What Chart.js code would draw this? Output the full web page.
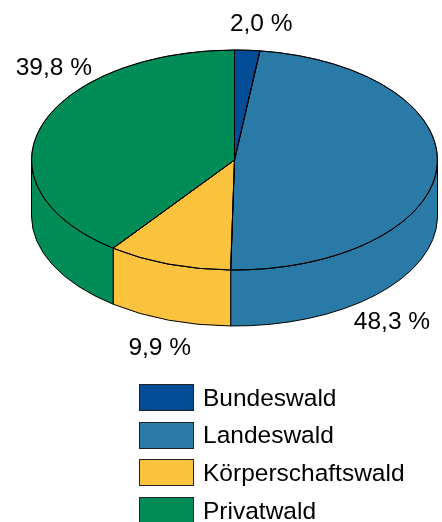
<!DOCTYPE html>
<html>
<head>
<meta charset="utf-8">
<script src="https://cdn.jsdelivr.net/npm/chart.js@4/dist/chart.umd.min.js"></script>
<style>
  html, body { margin: 0; padding: 0; background: #fff; }
  #wrap { position: relative; width: 442px; height: 522px; overflow: hidden; }
  #legend { position: absolute; left: 139px; top: 384px; font-family: "Liberation Sans", Arial, sans-serif; font-size: 24.5px; color: #000; }
  .item { display: flex; align-items: center; height: 27px; margin-bottom: 10.7px; }
  .box { width: 53px; height: 25px; border: 1px solid #222; margin-right: 9px; }
</style>
</head>
<body>
<div id="wrap">
  <canvas id="pie" width="442" height="522"></canvas>
  <div id="legend"></div>
</div>
<script>
const labels = ["Bundeswald", "Landeswald", "Körperschaftswald", "Privatwald"];
const shares = [2.0, 48.3, 9.9, 39.8];
const colors = ["#034c96", "#2a7aa8", "#fbc23e", "#008c57"];

// look of the tilted disc
const tilt = 110 / 203;   // vertical squash
const depth = 56;         // side height in px
const topY = 160;         // screen y of the disc centre
// label offsets from the rim point at each slice's middle angle
const labelShift = [[14, -26], [-45, 154], [-9, 84], [12, -57]];

function fmt(v) {
  return v.toFixed(1).replace(".", ",") + " %";
}

function ellipsePath(ctx, x, y, rx, ry, a, b, ccw) {
  ctx.ellipse(x, y, rx, ry, 0, a, b, ccw);
}

const pie3d = {
  id: "pie3d",
  beforeDatasetsDraw(chart) {
    const ctx = chart.ctx;
    const arcs = chart.getDatasetMeta(0).data;
    // front walls, only the part facing the viewer (0..PI)
    arcs.forEach((arc, i) => {
      const a = Math.max(arc.startAngle, 0);
      const b = Math.min(arc.endAngle, Math.PI);
      if (b <= a) return;
      const rx = arc.outerRadius, ry = arc.outerRadius * tilt;
      ctx.save();
      ctx.beginPath();
      ellipsePath(ctx, arc.x, topY, rx, ry, a, b, false);
      ellipsePath(ctx, arc.x, topY + depth, rx, ry, b, a, true);
      ctx.closePath();
      ctx.fillStyle = colors[i];
      ctx.fill();
      ctx.lineWidth = 1;
      ctx.strokeStyle = "#000";
      ctx.stroke();
      ctx.restore();
    });
    const cy0 = arcs[0].y;
    ctx.save();
    ctx.translate(0, topY);
    ctx.scale(1, tilt);
    ctx.translate(0, -cy0);
  },
  afterDatasetsDraw(chart) {
    const ctx = chart.ctx;
    ctx.restore();
    const arcs = chart.getDatasetMeta(0).data;
    ctx.save();
    ctx.lineWidth = 1;
    ctx.strokeStyle = "#000";
    arcs.forEach((arc) => {
      const rx = arc.outerRadius, ry = arc.outerRadius * tilt;
      ctx.beginPath();
      ctx.moveTo(arc.x, topY);
      ellipsePath(ctx, arc.x, topY, rx, ry, arc.startAngle, arc.endAngle, false);
      ctx.closePath();
      ctx.stroke();
    });
    ctx.font = '24.5px "Liberation Sans", Arial, sans-serif';
    ctx.fillStyle = "#000";
    ctx.textAlign = "center";
    ctx.textBaseline = "middle";
    arcs.forEach((arc, i) => {
      const mid = (arc.startAngle + arc.endAngle) / 2;
      const x = arc.x + arc.outerRadius * Math.cos(mid);
      const y = topY + arc.outerRadius * tilt * Math.sin(mid);
      ctx.fillText(fmt(shares[i]), x + labelShift[i][0], y + labelShift[i][1]);
    });
    ctx.restore();
  }
};

const chart = new Chart(document.getElementById("pie"), {
  type: "pie",
  data: {
    labels: labels,
    datasets: [{
      data: shares,
      backgroundColor: colors,
      borderColor: "#000",
      borderWidth: 1
    }]
  },
  options: {
    responsive: false,
    animation: false,
    events: [],
    layout: { padding: { left: 31, right: 4, top: 0, bottom: 0 } },
    plugins: {
      legend: { display: false },
      tooltip: { enabled: false }
    }
  },
  plugins: [pie3d]
});

const legendDiv = document.getElementById("legend");
Chart.overrides.pie.plugins.legend.labels.generateLabels(chart).forEach((item) => {
  const row = document.createElement("div");
  row.className = "item";
  row.innerHTML = `<span class="box" style="background:${item.fillStyle}"></span><span>${item.text}</span>`;
  legendDiv.appendChild(row);
});
</script>
</body>
</html>
